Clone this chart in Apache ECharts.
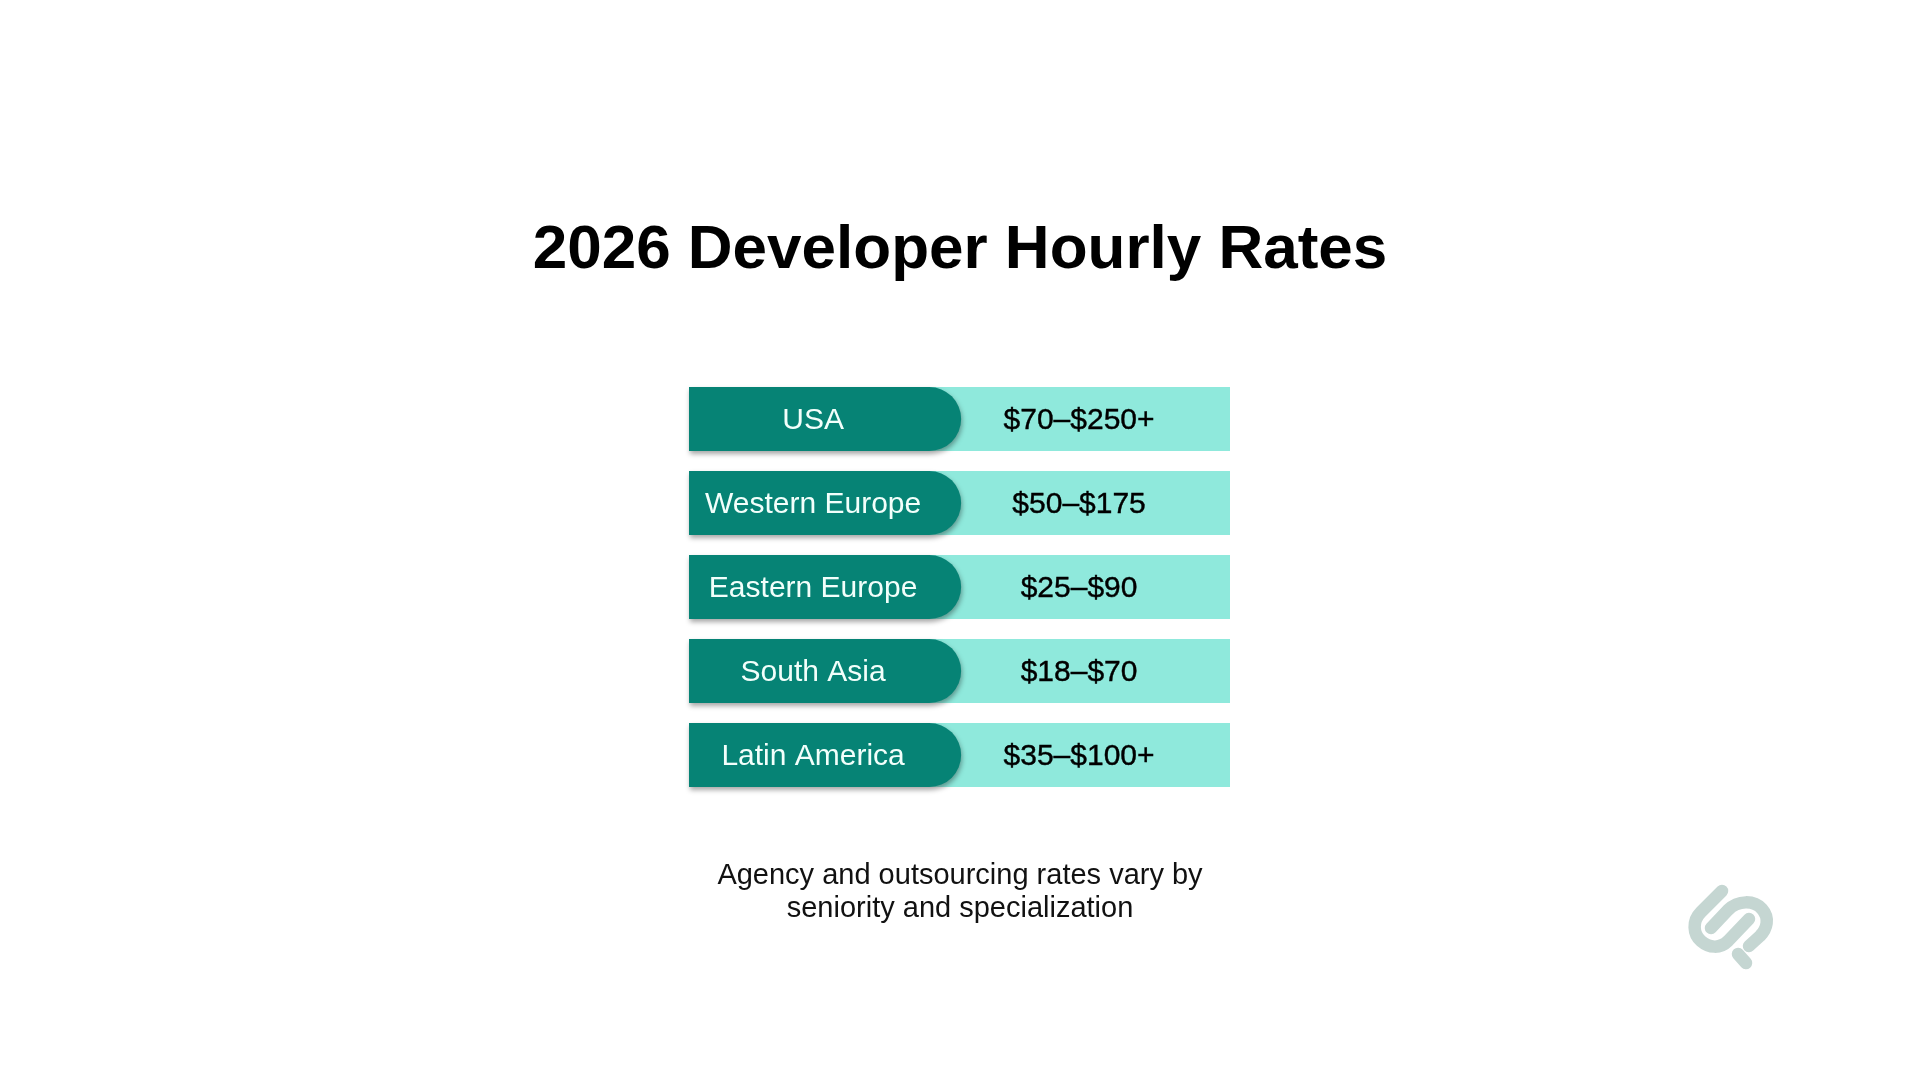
<!DOCTYPE html>
<html>
<head>
<meta charset="utf-8">
<title>2026 Developer Hourly Rates</title>
<script src="https://cdn.jsdelivr.net/npm/echarts@6/dist/echarts.min.js"></script>
<style>
html, body { margin: 0; padding: 0; background: #fff; }
#chart { width: 1920px; height: 1080px; }
</style>
</head>
<body>
<div id="chart"></div>
<script>
// 数据
var regions = ['USA', 'Western Europe', 'Eastern Europe', 'South Asia', 'Latin America'];
var rates = ['$70–$250+', '$50–$175', '$25–$90', '$18–$70', '$35–$100+'];
var rowShare = [1, 1, 1, 1, 1];
var headShare = [0.503, 0.503, 0.503, 0.503, 0.503];

var FONT = '"Liberation Sans", Arial, sans-serif';

// 右下角标志
echarts.graphic.registerShape('clipLogo', echarts.graphic.extendPath(
    'M42,11 L21,32 C12,41 13,54 21,61 C29,68 40,69 48,61 L69,39 ' +
    'M31,48 L48,30 C58,20 74,20 82,29 C90,38 87,49 80,56 L69,66 ' +
    'M58,74 L66,83', {}
));

var chart = echarts.init(document.getElementById('chart'));

chart.setOption({
    backgroundColor: '#ffffff',
    animation: false,
    title: [{
        text: '2026 Developer Hourly Rates',
        left: 955,
        top: 215,
        textAlign: 'center',
        textStyle: { fontFamily: FONT, fontSize: 62, fontWeight: 'bold', color: '#000000' }
    }, {
        text: 'Agency and outsourcing rates vary by\nseniority and specialization',
        left: 955,
        top: 854,
        textAlign: 'center',
        textStyle: { fontFamily: FONT, fontSize: 29, fontWeight: 'normal', color: '#111111', lineHeight: 33 }
    }],
    grid: { left: 689, width: 541, top: 377, height: 420 },
    xAxis: { type: 'value', min: 0, max: 1, show: false },
    yAxis: { type: 'category', data: regions, inverse: true, show: false },
    series: [{
        name: 'rate',
        type: 'bar',
        data: rowShare,
        barWidth: 64,
        barGap: '-100%',
        itemStyle: { color: '#8FE9DC' },
        label: {
            show: true,
            position: ['72.1%', '50%'],
            offset: [0, 2],
            align: 'center',
            verticalAlign: 'middle',
            formatter: function (p) { return rates[p.dataIndex]; },
            fontFamily: FONT,
            fontSize: 30,
            color: '#000000',
            textBorderColor: '#000000',
            textBorderWidth: 0.4
        }
    }, {
        name: 'region',
        type: 'bar',
        data: headShare,
        barWidth: 64,
        itemStyle: {
            color: '#068375',
            borderRadius: [0, 32, 32, 0],
            shadowColor: 'rgba(0,0,0,0.35)',
            shadowBlur: 5,
            shadowOffsetX: 1,
            shadowOffsetY: 3
        },
        label: {
            show: true,
            position: ['45.6%', '50%'],
            offset: [0, 2],
            align: 'center',
            verticalAlign: 'middle',
            formatter: '{b}',
            fontFamily: FONT,
            fontSize: 30,
            color: '#F2FFFB'
        }
    }],
    graphic: [{
        type: 'group',
        x: 1680,
        y: 880,
        silent: true,
        children: [{
            type: 'clipLogo',
            style: { fill: 'none', stroke: '#C5D6D2', lineWidth: 12.5, lineCap: 'round', lineJoin: 'round' }
        }]
    }]
});
</script>
</body>
</html>
